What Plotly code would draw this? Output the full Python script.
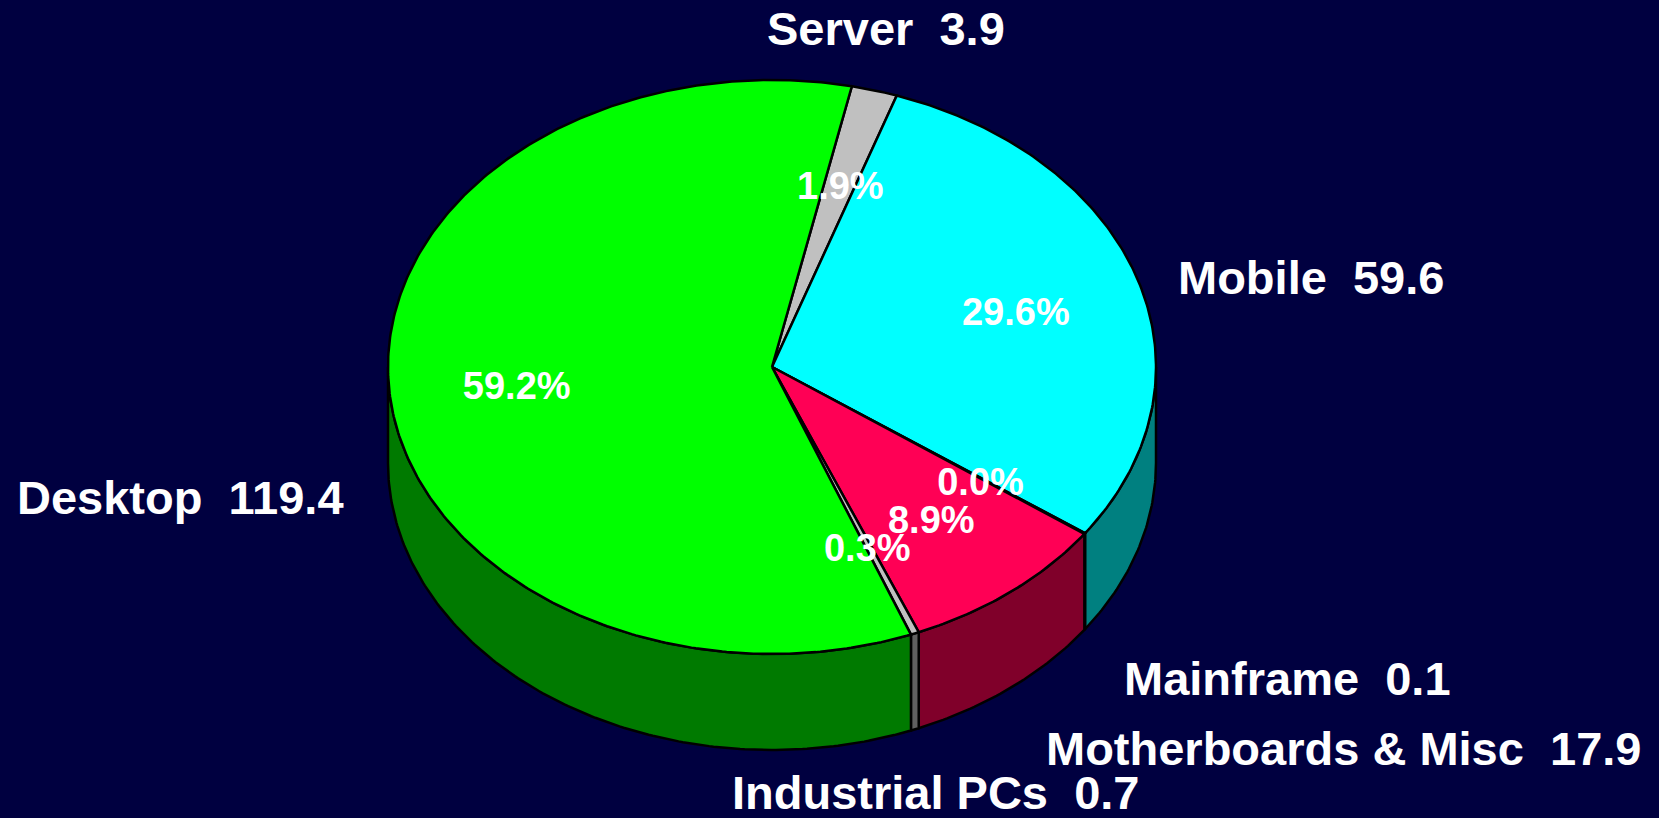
import numpy as np
import plotly.graph_objects as go

# ---- data ----
categories = ["Server", "Mobile", "Mainframe", "Motherboards & Misc", "Industrial PCs", "Desktop"]
values = [3.9, 59.6, 0.1, 17.9, 0.7, 119.4]
top_colors = ["#C0C0C0", "#00FFFF", "#9999CC", "#FF0055", "#C0C0C0", "#00FF00"]
side_colors = ["#606060", "#008080", "#4C4C66", "#80002A", "#606060", "#007A00"]

# ---- geometry / style ----
W, H = 1659, 818
CX, CY = 772, 367          # centre of top face (px)
A, B = 384, 287            # semi-axes of top face
DEPTH = 96                 # thickness of the pie
START = 12.0               # start angle, degrees clockwise from 12 o'clock
PCT_R = 0.667
PCT_DY = 7
LINE_W = 2.5
BG = "#000040"
FONT = "Liberation Sans, Arial, sans-serif"

# outer label placement relative to the slice's rim point: (dx, dy, xanchor)
label_place = {
    "Server": (11, -62, "center"),
    "Mobile": (38, -2, "left"),
    "Mainframe": (37, 145, "left"),
    "Motherboards & Misc": (33, 157, "left"),
    "Industrial PCs": (21, 159, "center"),
    "Desktop": (-43, 107, "right"),
}


def pt(theta_deg, r=1.0, dy=0.0):
    t = np.radians(theta_deg)
    return CX + r * A * np.sin(t), CY - r * B * np.cos(t) + dy


total = float(sum(values))
angles = []
cur = START
for v in values:
    span = v / total * 360.0
    angles.append((cur, cur + span))
    cur += span

fig = go.Figure()

# side walls (front half only: 90..270 deg)
for (s, e), col in zip(angles, side_colors):
    for off in (0, 360):
        t0, t1 = max(s, 90 + off), min(e, 270 + off)
        if t1 <= t0:
            continue
        n = max(2, int((t1 - t0) * 1.5) + 2)
        th = np.linspace(t0, t1, n)
        xt, yt = pt(th)
        xb, yb = pt(th[::-1], dy=DEPTH)
        xs = np.concatenate([xt, xb, xt[:1]])
        ys = np.concatenate([yt, yb, yt[:1]])
        fig.add_trace(go.Scatter(x=xs, y=ys, mode="lines", fill="toself",
                                 fillcolor=col, line=dict(color="black", width=LINE_W),
                                 hoverinfo="skip", showlegend=False))

# top faces
for (s, e), col in zip(angles, top_colors):
    n = max(2, int((e - s) * 1.5) + 2)
    th = np.linspace(s, e, n)
    xa, ya = pt(th)
    xs = np.concatenate([[CX], xa, [CX]])
    ys = np.concatenate([[CY], ya, [CY]])
    fig.add_trace(go.Scatter(x=xs, y=ys, mode="lines", fill="toself",
                             fillcolor=col, line=dict(color="black", width=LINE_W),
                             hoverinfo="skip", showlegend=False))

# percentage labels
px_, py_, ptxt = [], [], []
for (s, e), v in zip(angles, values):
    x, y = pt((s + e) / 2, r=PCT_R, dy=PCT_DY)
    px_.append(x)
    py_.append(y)
    ptxt.append(f"{v / total * 100:.1f}%")
fig.add_trace(go.Scatter(x=px_, y=py_, mode="text", text=ptxt,
                         textposition="middle center",
                         textfont=dict(family=FONT, size=38, color="white", weight="bold"),
                         hoverinfo="skip", showlegend=False))

# category labels
for (s, e), name, v in zip(angles, categories, values):
    x, y = pt((s + e) / 2)
    dx, dy, xa = label_place[name]
    fig.add_annotation(x=x + dx, y=y + dy, text=f"{name}\u00a0 {v}", showarrow=False,
                       xanchor=xa, yanchor="middle",
                       font=dict(family=FONT, size=47, color="white", weight="bold"))

fig.update_layout(
    width=W, height=H,
    margin=dict(l=0, r=0, t=0, b=0),
    paper_bgcolor=BG, plot_bgcolor=BG,
    xaxis=dict(range=[0, W], visible=False, fixedrange=True),
    yaxis=dict(range=[H, 0], visible=False, fixedrange=True),
)

fig.write_html(
    "out.html",
    config={"displayModeBar": False},
    post_script="document.body.style.margin='0';document.body.style.overflow='hidden';"
                "document.body.style.background='" + BG + "';",
)
